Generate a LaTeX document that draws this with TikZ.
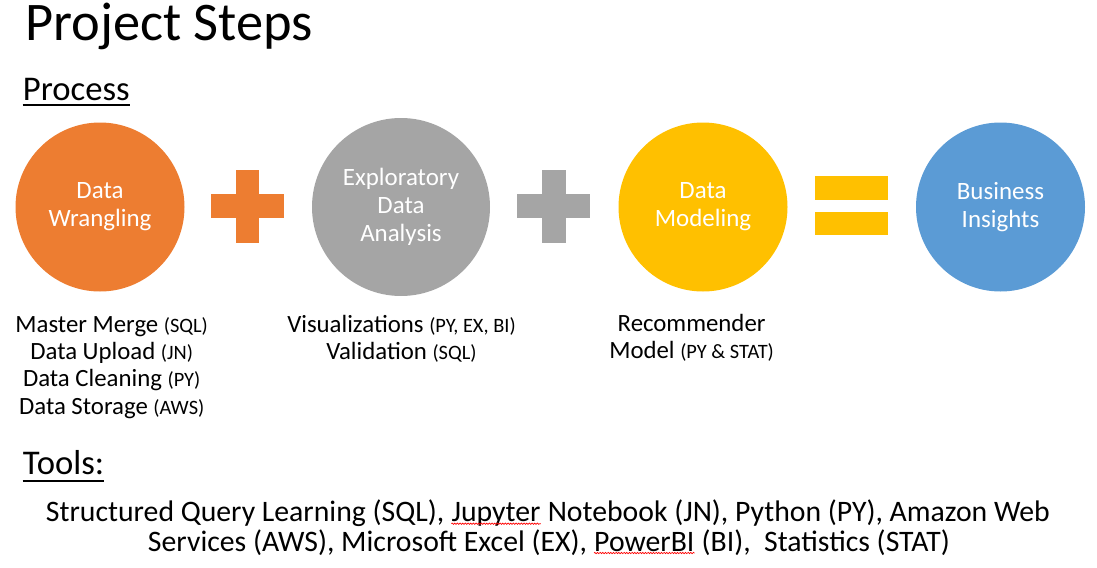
\documentclass[tikz,border=0pt]{standalone}
\usepackage{fontspec}
\setmainfont{Carlito}
\usepackage{color}
\usetikzlibrary{decorations.pathmorphing}
\definecolor{wrangle}{HTML}{ED7D31}
\definecolor{explore}{HTML}{A5A5A5}
\definecolor{model}{HTML}{FFC000}
\definecolor{insight}{HTML}{5B9BD5}
\newcommand{\toolabbr}[1]{{\fontsize{15.3pt}{18pt}\selectfont #1}}

\begin{document}
\begin{tikzpicture}[x=0.75pt,y=-0.75pt,
  stage/.style={circle,inner sep=0,minimum size=126.75pt,text=white,align=center,
    font=\fontsize{18.7pt}{21pt}\selectfont},
  desc/.style={anchor=base,inner sep=0,font=\fontsize{18.6pt}{21pt}\selectfont},
  heading/.style={anchor=base west,inner sep=0,font=\fontsize{26pt}{30pt}\selectfont},
  tooltext/.style={anchor=base west,inner sep=0,font=\fontsize{22.3pt}{26pt}\selectfont},
  spell/.style={red,line width=0.5pt,decorate,decoration={snake,amplitude=0.5pt,segment length=2pt}}]
\useasboundingbox (0,0) rectangle (1097,568);
\node[anchor=base west,inner sep=0,font=\fontsize{40.8pt}{46pt}\selectfont] (title) at (25,40.7) {Project Steps};
\node[heading] (process) at (22.7,100.7) {Process};
\draw[line width=1.5pt] ([yshift=-3pt]process.base west) -- ([yshift=-3pt]process.base east);
\node[stage,fill=wrangle] (wrang) at (100,207) {Data\\Wrangling};
\node[stage,fill=explore,minimum size=133.5pt] (eda) at (401,207) {Exploratory\\Data\\Analysis};
\node[stage,fill=model] (model) at (703,207) {Data\\Modeling};
\node[stage,fill=insight] (insight) at (1000.5,207) {Business\\Insights};
\fill[wrangle] (211,194) rectangle (284,218);
\fill[wrangle] (235.7,169.5) rectangle (259.3,242.5);
\fill[explore] (517,194) rectangle (590,218);
\fill[explore] (542,169.5) rectangle (566,242.5);
\fill[model] (815,176.3) rectangle (888,199.7);
\fill[model] (815,211.7) rectangle (888,235.3);
\node[desc] (merge) at (111.7,332.3) {Master Merge \toolabbr{(SQL)}};
\node[desc] (upload) at (111.7,359.3) {Data Upload \toolabbr{(JN)}};
\node[desc] (clean) at (111.7,386.7) {Data Cleaning \toolabbr{(PY)}};
\node[desc] (store) at (111.7,414) {Data Storage \toolabbr{(AWS)}};
\node[desc] (visual) at (401.5,332.3) {Visualizations \toolabbr{(PY, EX, BI)}};
\node[desc] (valid) at (401.5,359.3) {Validation \toolabbr{(SQL)}};
\node[desc] (recom) at (691.6,331.7) {Recommender};
\node[desc] (recmod) at (691.6,358.3) {Model \toolabbr{(PY \& STAT)}};
\node[heading] (tools) at (22.7,474.7) {Tools:};
\draw[line width=1.5pt] ([yshift=-4.5pt]tools.base west) -- ([yshift=-4.5pt]tools.base east);
\node[tooltext] (sqlt) at (45.7,521.7) {Structured Query Learning (SQL),\kern0.226em};
\node[tooltext] (jupy) at (sqlt.base east) {Jupyter};
\node[tooltext] (jnt) at (jupy.base east) {\kern0.226em Notebook (JN), Python (PY), Amazon Web};
\node[tooltext] (awst) at (147.7,551) {Services (AWS), Microsoft Excel (EX),\kern0.226em};
\node[tooltext] (pbi) at (awst.base east) {PowerBI};
\node[tooltext] (statt) at (pbi.base east) {\kern0.226em(BI),\ \ Statistics (STAT)};
\draw[spell] ([yshift=-1.5pt]jupy.base west) -- ([yshift=-1.5pt]jupy.base east);
\draw[spell] ([yshift=-1.5pt]pbi.base west) -- ([yshift=-1.5pt]pbi.base east);
\end{tikzpicture}
\end{document}
